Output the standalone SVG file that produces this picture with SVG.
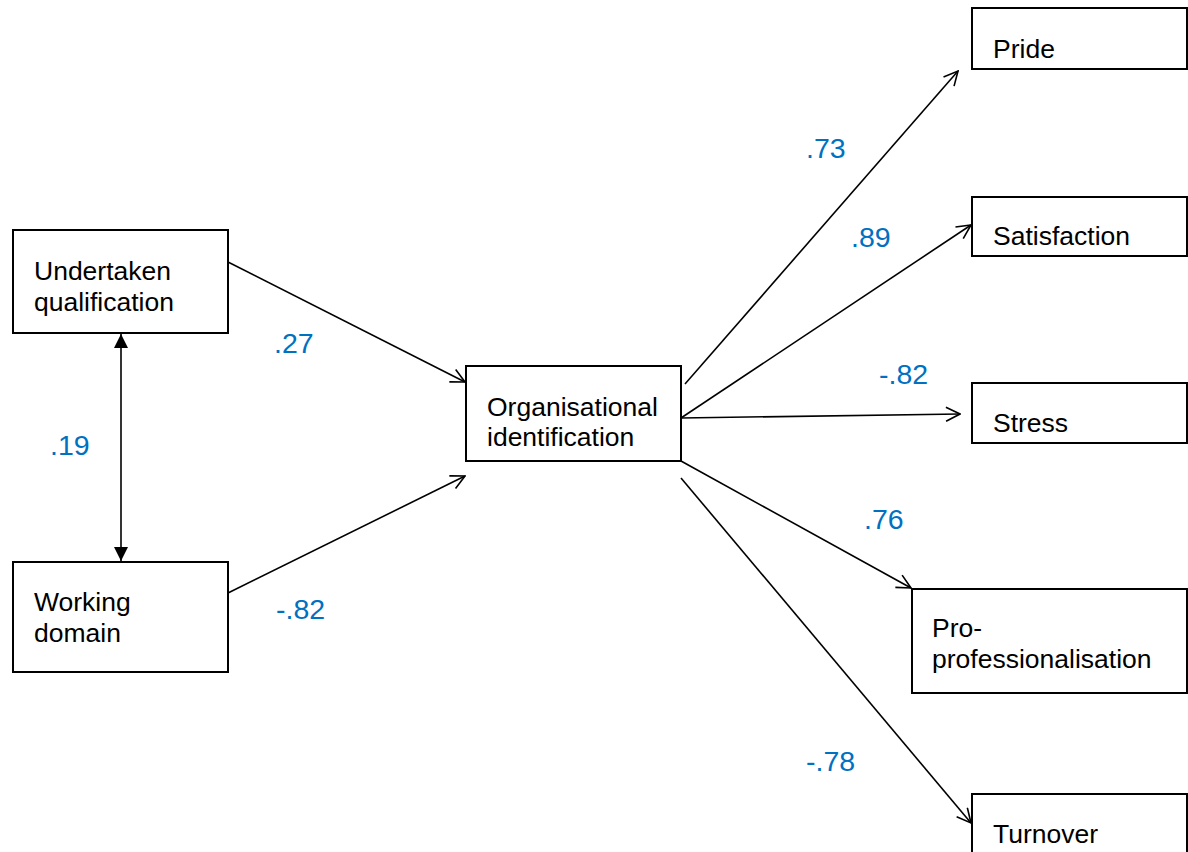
<svg xmlns="http://www.w3.org/2000/svg" width="1188" height="852" viewBox="0 0 1188 852">
<defs>
<style>
.box{fill:#fff;stroke:#000;stroke-width:2}
.t{font-family:"Liberation Sans",Arial,sans-serif;font-size:26.5px;fill:#000}
.v{font-family:"Liberation Sans",Arial,sans-serif;font-size:28.5px;fill:#0070C0}
.c{stroke:#000;stroke-width:1.6;fill:none}
</style>
<marker id="open" viewBox="0 0 16 16" refX="15" refY="8" markerWidth="16" markerHeight="16" markerUnits="userSpaceOnUse" orient="auto">
<path d="M1,1 L15,8 L1,15" fill="none" stroke="#000" stroke-width="1.6"/>
</marker>
<marker id="fill" viewBox="0 0 14 14" refX="14" refY="7" markerWidth="14" markerHeight="14" markerUnits="userSpaceOnUse" orient="auto-start-reverse">
<path d="M0,0 L14,7 L0,14 Z" fill="#000"/>
</marker>
</defs>
<rect width="1188" height="852" fill="#fff"/>
<g id="connectors">
<line class="c" x1="228" y1="262" x2="465" y2="382" marker-end="url(#open)"/>
<line class="c" x1="228" y1="593" x2="465" y2="476" marker-end="url(#open)"/>
<line class="c" x1="121" y1="334" x2="121" y2="561" marker-start="url(#fill)" marker-end="url(#fill)"/>
<line class="c" x1="685" y1="384" x2="958" y2="71" marker-end="url(#open)"/>
<line class="c" x1="681" y1="418" x2="971" y2="225" marker-end="url(#open)"/>
<line class="c" x1="681" y1="418" x2="960" y2="414" marker-end="url(#open)"/>
<line class="c" x1="681" y1="461" x2="911" y2="588" marker-end="url(#open)"/>
<line class="c" x1="681" y1="478" x2="971" y2="823" marker-end="url(#open)"/>
</g>
<g id="labels">
<text class="v" x="806" y="158">.73</text>
<text class="v" x="851" y="247">.89</text>
<text class="v" x="879" y="384">-.82</text>
<text class="v" x="864" y="529">.76</text>
<text class="v" x="806" y="771">-.78</text>
<text class="v" x="274" y="353">.27</text>
<text class="v" x="50" y="455">.19</text>
<text class="v" x="276" y="619">-.82</text>
</g>
<g id="undertaken">
<rect class="box" x="13" y="230" width="215" height="103"/>
<text class="t" x="34" y="280">Undertaken</text>
<text class="t" x="34" y="311">qualification</text>
</g>
<g id="working">
<rect class="box" x="13" y="562" width="215" height="110"/>
<text class="t" x="34" y="611">Working</text>
<text class="t" x="34" y="642">domain</text>
</g>
<g id="org">
<rect class="box" x="466" y="366" width="215" height="95"/>
<text class="t" x="487" y="416">Organisational</text>
<text class="t" x="487" y="446">identification</text>
</g>
<g id="pride">
<rect class="box" x="972" y="8" width="215" height="61"/>
<text class="t" x="993" y="58">Pride</text>
</g>
<g id="satisfaction">
<rect class="box" x="972" y="197" width="215" height="59"/>
<text class="t" x="993" y="245">Satisfaction</text>
</g>
<g id="stress">
<rect class="box" x="972" y="383" width="215" height="60"/>
<text class="t" x="993" y="432">Stress</text>
</g>
<g id="pro">
<rect class="box" x="912" y="589" width="275" height="104"/>
<text class="t" x="932" y="637">Pro-</text>
<text class="t" x="932" y="668">professionalisation</text>
</g>
<g id="turnover">
<rect class="box" x="972" y="794" width="215" height="70"/>
<text class="t" x="993" y="843">Turnover</text>
</g>
</svg>
